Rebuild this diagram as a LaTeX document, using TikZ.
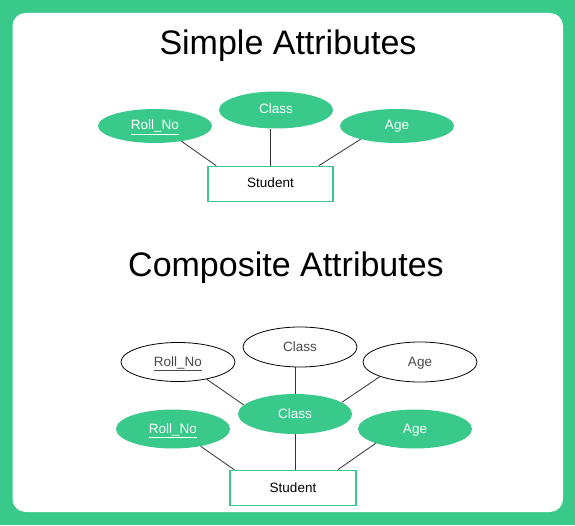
\documentclass[tikz,border=0pt]{standalone}
\usepackage{fontspec}
\setmainfont{Liberation Sans}
\usetikzlibrary{positioning,shapes.geometric,backgrounds,calc}
\definecolor{erGreen}{HTML}{38C98B}
\definecolor{erLine}{HTML}{333333}
\definecolor{erGrey}{HTML}{4A4A4A}
\tikzset{
  attr/.style={ellipse, fill=erGreen, text=white, inner sep=0pt,
               minimum width=114pt, minimum height=36pt,
               text height=9.5pt, text depth=1.5pt,
               font=\fontsize{13.5}{15}\selectfont},
  wattr/.style={attr, draw=black, line width=0.8pt, fill=white, text=erGrey,
                minimum height=39pt},
  ent/.style={draw=erGreen, line width=1.6pt, fill=white, inner sep=0pt,
              minimum width=125pt, minimum height=35pt,
              text height=9.5pt, text depth=1.5pt,
              font=\fontsize{13.5}{15}\selectfont},
  link/.style={draw=erLine, line width=0.8pt},
  ttl/.style={font=\fontsize{34}{38}\selectfont, inner sep=0pt},
}
\newcommand{\keyattr}[1]{\underline{#1}}

\begin{document}
\begin{tikzpicture}[x=1pt, y=1pt]

% frame
\begin{scope}[on background layer]
  \fill[erGreen] (0,0) rectangle (575,525);
  \fill[white, rounded corners=13pt] (12.5,13) rectangle (563,512);
\end{scope}

% simple attributes
\node[ttl] (title1) at (288,479) {Simple Attributes};
\node[attr, minimum height=34pt] (roll1) at (155,399) {\keyattr{Roll\_No}};
\node[attr, minimum height=37pt] (class1) at (276,415) {Class};
\node[attr, minimum height=34pt] (age1) at (397,399) {Age};
\node[ent] (stud1) at (270.5,341) {Student};

% composite attributes
\node[ttl] (title2) at (286,257) {Composite Attributes};
\node[wattr] (roll2o) at (178,163) {\keyattr{Roll\_No}};
\node[wattr, minimum height=40pt] (class2o) at (300,178) {Class};
\node[wattr, minimum height=40pt] (age2o) at (420,163) {Age};
\node[attr, minimum height=40pt] (class2) at (295,111) {Class};
\node[attr, minimum height=39pt] (roll2) at (173,96) {\keyattr{Roll\_No}};
\node[attr, minimum height=39pt] (age2) at (415,96) {Age};
\node[ent, minimum width=126pt] (stud2) at (293,37) {Student};

\begin{scope}[on background layer]
  \draw[link] (roll1.-30) -- ($(stud1.north west)+(9,0)$);
  \draw[link] (stud1.north) -- (stud1.north |- class1.south);
  \draw[link] (age1.200) -- ($(stud1.north east)+(-15,0)$);

  \draw[link] (roll2o.-31) -- (class2.170);
  \draw[link] (class2.north) -- (class2.north |- class2o.south);
  \draw[link] (age2o.200) -- (class2.14);

  \draw[link] (roll2.-32) -- ($(stud2.north west)+(5,0)$);
  \draw[link] (class2.south) -- (class2.south |- stud2.north);
  \draw[link] (age2.200) -- ($(stud2.north east)+(-19,0)$);
\end{scope}

\end{tikzpicture}
\end{document}
